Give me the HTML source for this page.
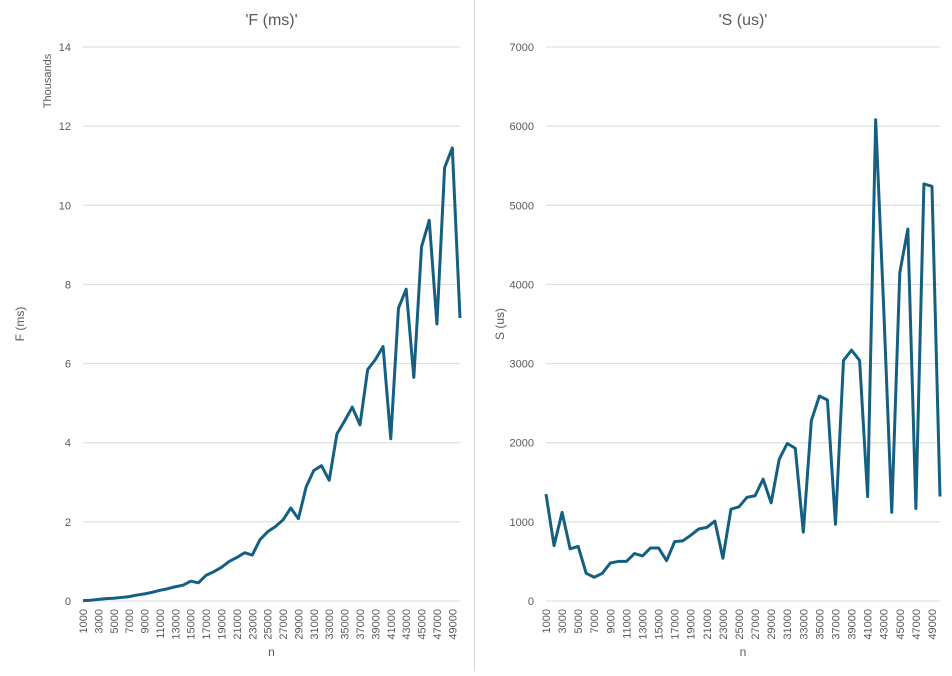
<!DOCTYPE html>
<html><head><meta charset="utf-8"><style>
body{margin:0;background:#fff;font-family:"Liberation Sans",sans-serif;}
svg text{font-family:"Liberation Sans",sans-serif;fill:#595959;}
</style></head><body>
<svg id="c" width="952" height="671">
<line x1="474.5" y1="0" x2="474.5" y2="671" stroke="#d9d9d9"/>
</svg>
<script>
const categories=[];for(let n=1000;n<=50000;n+=1000)categories.push(n);
const fValues=[0.01,0.02,0.04,0.06,0.07,0.09,0.11,0.15,0.18,0.22,0.27,0.31,0.36,0.40,0.50,0.46,0.65,0.74,0.85,1.0,1.1,1.22,1.16,1.55,1.75,1.88,2.05,2.35,2.08,2.88,3.3,3.42,3.05,4.22,4.55,4.9,4.45,5.85,6.1,6.43,4.1,7.4,7.88,5.65,8.95,9.62,7.0,10.95,11.45,7.15];
const sValues=[1350,700,1120,660,690,350,300,350,480,500,500,600,570,670,670,510,750,760,830,910,930,1010,540,1160,1190,1310,1330,1540,1240,1790,1990,1930,870,2280,2590,2540,970,3040,3170,3040,1320,6080,3700,1120,4150,4700,1170,5270,5240,1320];
const fTicks=[0,2,4,6,8,10,12,14];
const sTicks=[0,1000,2000,3000,4000,5000,6000,7000];
const svg=document.getElementById('c');const NS='http://www.w3.org/2000/svg';
function mk(t,a,txt){const e=document.createElementNS(NS,t);for(const k in a)e.setAttribute(k,a[k]);if(txt!=null)e.textContent=txt;svg.appendChild(e);return e;}
function chart(cfg){
 const {x0,x1,yTop,yBot,max,ticks,vals,title,ytitle,ytx,pre}=cfg;
 const xs=i=>x0+i*(x1-x0)/(categories.length-1);
 const ys=v=>yBot-v*(yBot-yTop)/max;
 let t=mk('text',{x:(x0+x1)/2,y:25,'text-anchor':'middle','font-size':16},title);
 
 
 ticks.forEach(v=>{
  let g=mk('line',{x1:x0,x2:x1,y1:ys(v),y2:ys(v),stroke:'#d9d9d9'});
  
  
  let l=mk('text',{x:x0-12,y:ys(v)+4,'text-anchor':'end','font-size':11},String(v));
  
  
 });
 categories.forEach((c,i)=>{if(i%2)return;
  let l=mk('text',{x:0,y:0,'text-anchor':'end','font-size':11,transform:`translate(${xs(i)+4},${yBot+8}) rotate(-90)`},String(c));
  
  
 });
 let xt=mk('text',{x:(x0+x1)/2,y:656,'text-anchor':'middle','font-size':12},'n');
 
 
 let yt=mk('text',{x:0,y:0,'text-anchor':'middle','font-size':12,transform:`translate(${ytx},${(yTop+yBot)/2}) rotate(-90)`},ytitle);
 
 
 let p=mk('polyline',{points:vals.map((v,i)=>xs(i)+','+ys(v)).join(' '),fill:'none',stroke:'#156082','stroke-width':3,'stroke-linejoin':'round'});
 
 
}
chart({x0:83,x1:460,yTop:47,yBot:601,max:14,ticks:fTicks,vals:fValues,title:"'F (ms)'",ytitle:'F (ms)',ytx:24,pre:'f-chart'});
let th=mk('text',{x:0,y:0,'text-anchor':'middle','font-size':11,transform:'translate(51,81) rotate(-90)'},'Thousands');


chart({x0:546,x1:940,yTop:47,yBot:601,max:7000,ticks:sTicks,vals:sValues,title:"'S (us)'",ytitle:'S (us)',ytx:504,pre:'s-chart'});
</script>
</body></html>
